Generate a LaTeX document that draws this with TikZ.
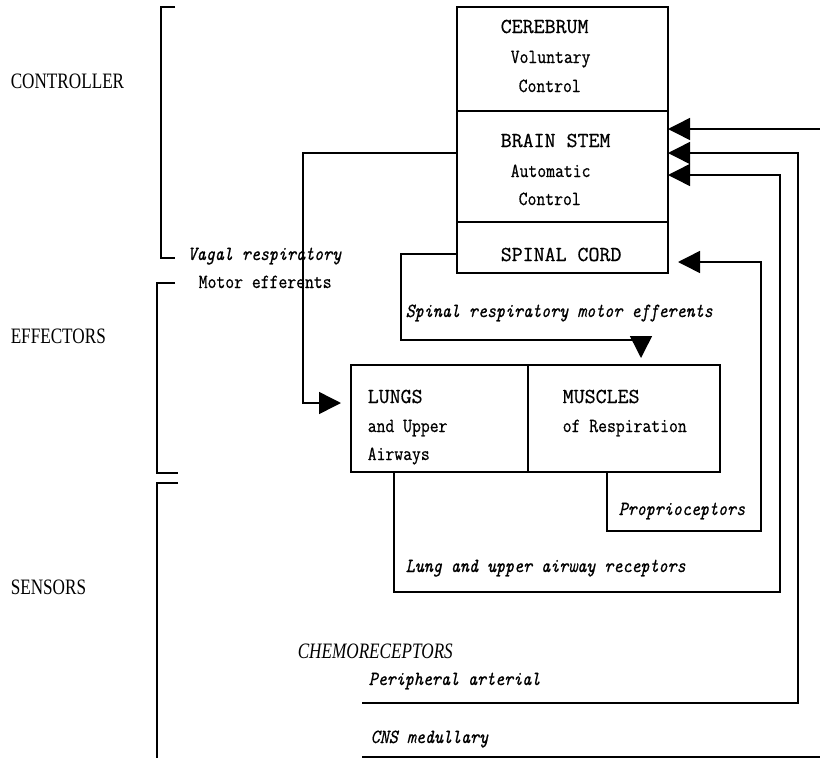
\documentclass[tikz,border=0pt]{standalone}
\usepackage{fontspec}
\setmainfont{Liberation Serif}
\setmonofont{Latin Modern Mono}[FakeBold=0.7]
\usetikzlibrary{arrows.meta}
\newcommand\sqz[1]{\scalebox{0.86}[1]{#1}}
\newcommand\sqzl[1]{\scalebox{0.78}[1]{#1}}
\begin{document}
\begin{tikzpicture}[x=1pt,y=1pt, line width=1.5pt,
  box/.style={draw, rectangle, inner sep=0pt, outer sep=0pt, anchor=north west},
  bigtt/.style={anchor=base west, inner sep=0pt, font=\ttfamily\fontsize{21.3}{24}\selectfont},
  smtt/.style={anchor=base west, inner sep=0pt, font=\ttfamily\fontsize{20}{24}\selectfont},
  smit/.style={anchor=base west, inner sep=0pt, font=\ttfamily\itshape\fontsize{20}{24}\selectfont},
  lab/.style={anchor=base west, inner sep=0pt, font=\fontsize{22}{26}\selectfont},
  labit/.style={anchor=base west, inner sep=0pt, font=\itshape\fontsize{22}{26}\selectfont},
  tip/.style={-{Triangle[length=22pt,width=22pt]}}]
\useasboundingbox (0,0) rectangle (820,-758);

% brackets
\draw (175,-7) -- (161,-7) -- (161,-258) -- (175,-258);
\draw (175,-283) -- (157,-283) -- (157,-473) -- (178,-473);
\draw (178,-483) -- (157,-483) -- (157,-758);

% group labels
\node[lab] (tctrl) at (10,-88) {\sqzl{CONTROLLER}};
\node[lab] (teff) at (10,-343) {\sqzl{EFFECTORS}};
\node[lab] (tsens) at (10,-594) {\sqzl{SENSORS}};

% boxes
\node[box, minimum width=211pt, minimum height=104pt] (cerebrum) at (457,-7) {};
\node[box, minimum width=211pt, minimum height=111pt] (brainstem) at (457,-111) {};
\node[box, minimum width=211pt, minimum height=51pt] (spinal) at (457,-222) {};
\node[box, minimum width=177pt, minimum height=107pt] (lungs) at (351,-365) {};
\node[box, minimum width=192pt, minimum height=107pt] (muscles) at (528,-365) {};

% box texts
\node[bigtt] (t1) at (500,-33) {CEREBRUM};
\node[smtt] (t2) at (510,-63) {\sqz{Voluntary}};
\node[smtt] (t3) at (518,-92) {\sqz{Control}};
\node[bigtt] (t4) at (500,-147) {BRAIN STEM};
\node[smtt] (t5) at (510,-177) {\sqz{Automatic}};
\node[smtt] (t6) at (518,-205) {\sqz{Control}};
\node[bigtt] (t7) at (500,-261) {SPINAL CORD};
\node[bigtt] (t8) at (367,-403) {LUNGS};
\node[smtt] (t9) at (367,-432) {\sqz{and Upper}};
\node[smtt] (t10) at (367,-460) {\sqz{Airways}};
\node[bigtt] (t11) at (562,-403) {MUSCLES};
\node[smtt] (t12) at (562,-432) {\sqz{of Respiration}};

% connector labels
\node[smit] (l1) at (405,-317) {\sqz{Spinal respiratory motor efferents}};
\node[smit] (l2) at (187,-260) {\sqz{Vagal respiratory}};
\node[smtt] (l3) at (198,-288) {\sqz{Motor efferents}};
\node[smit] (l4) at (618,-515) {\sqz{Proprioceptors}};
\node[smit] (l5) at (405,-572) {\sqz{Lung and upper airway receptors}};
\node[labit] (l6) at (297,-658) {\sqzl{CHEMORECEPTORS}};
\node[smit] (l7) at (368,-685) {\sqz{Peripheral arterial}};
\node[smit] (l8) at (370,-743) {\sqz{CNS medullary}};

% vagal efferents
\coordinate (vagA) at (303,-153);
\coordinate (vagB) at (303,-403);
\draw[tip, shorten >=10pt] (brainstem.west |- vagA) -- (vagA) -- (vagB) -- (lungs.west |- vagB);

% spinal efferents
\coordinate (spA) at (401,-254);
\coordinate (spB) at (401,-340);
\coordinate (spC) at (641,-340);
\draw[tip, shorten >=7pt] (spinal.west |- spA) -- (spA) -- (spB) -- (spC) -- (muscles.north -| spC);

% proprioceptors
\coordinate (prA) at (607,-531);
\coordinate (prB) at (761,-531);
\coordinate (prC) at (761,-262);
\draw[tip, shorten >=10pt] (muscles.south -| prA) -- (prA) -- (prB) -- (prC) -- (spinal.east |- prC);

% lung receptors
\coordinate (luA) at (394,-592);
\coordinate (luB) at (780,-592);
\coordinate (luC) at (780,-175);
\draw[tip] (lungs.south -| luA) -- (luA) -- (luB) -- (luC) -- (brainstem.east |- luC);

% peripheral chemoreceptors
\coordinate (peA) at (362,-703);
\coordinate (peB) at (798,-703);
\coordinate (peC) at (798,-153);
\draw[tip] (peA) -- (peB) -- (peC) -- (brainstem.east |- peC);

% CNS medullary
\coordinate (cnA) at (362,-757);
\coordinate (cnB) at (820,-757);
\coordinate (cnC) at (820,-129);
\draw (cnA) -- (cnB);
\draw[tip] (cnC) -- (brainstem.east |- cnC);
\end{tikzpicture}
\end{document}
